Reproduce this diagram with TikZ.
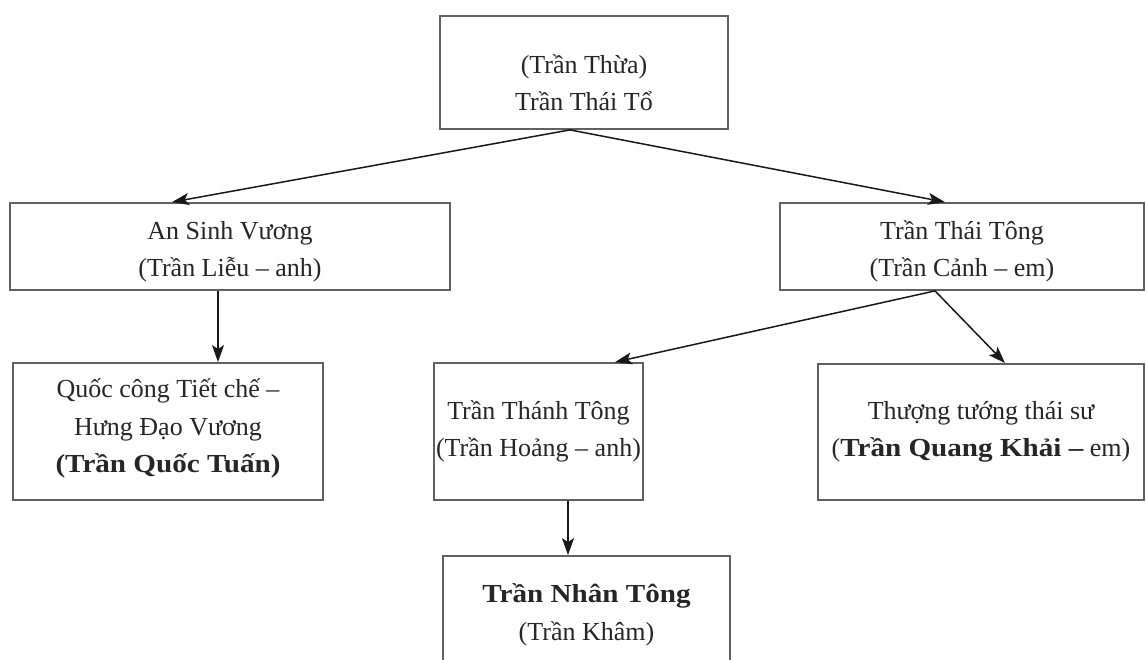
\documentclass[tikz,border=0pt]{standalone}
\usepackage{fontspec}
\setmainfont{Liberation Serif}
\newfontfamily\boldwidefont{Liberation Serif Bold}[FakeStretch=1.12]
\newcommand\bwide[1]{{\boldwidefont #1}}
\usetikzlibrary{arrows.meta}
\begin{document}
\begin{tikzpicture}[x=1pt,y=-1pt,
  box/.style={draw=black!62, line width=1.8pt, inner sep=0pt},
  txt/.style={align=center, inner sep=0pt, font=\fontsize{26}{37.5}\selectfont, text=black!85},
  arr/.style={line width=1.5pt, draw=black!90, -{Stealth[length=17pt,width=12pt,inset=4pt]}}]
\useasboundingbox (0,0) rectangle (1146,660);
\fill[white] (0,0) rectangle (1146,660);
\node[box, minimum width=288pt, minimum height=113pt,
  label={[txt, yshift=-10pt]center:{(Trần Thừa)\\Trần Thái Tổ}}] (top) at (584,72.5) {};
\node[box, minimum width=440pt, minimum height=87pt,
  label={[txt, yshift=-5pt]center:{An Sinh Vương\\(Trần Liễu – anh)}}] (asv) at (230,246.5) {};
\node[box, minimum width=364pt, minimum height=87pt,
  label={[txt, yshift=-5pt]center:{Trần Thái Tông\\(Trần Cảnh – em)}}] (ttt) at (962,246.5) {};
\node[box, minimum width=310pt, minimum height=137pt,
  label={[txt, yshift=3pt]center:{Quốc công Tiết chế –\\Hưng Đạo Vương\\\bwide{(Trần Quốc Tuấn)}}}] (qc) at (168,431.5) {};
\node[box, minimum width=209pt, minimum height=137pt,
  label={[txt]center:{Trần Thánh Tông\\(Trần Hoảng – anh)}}] (tht) at (538.5,431.5) {};
\node[box, minimum width=326pt, minimum height=136pt,
  label={[txt]center:{Thượng tướng thái sư\\(\bwide{Trần Quang Khải –} em)}}] (tqk) at (981,432) {};
\node[box, minimum width=287pt, minimum height=112pt,
  label={[txt, yshift=-3pt]center:{\bwide{Trần Nhân Tông}\\(Trần Khâm)}}] (tnt) at (586.5,612) {};
\draw[arr] ([xshift=-14pt]top.south) -- ([xshift=-58pt]asv.north);
\draw[arr] ([xshift=-14pt]top.south) -- ([xshift=-17pt]ttt.north);
\draw[arr] ([xshift=-12pt]asv.south) -- ([xshift=50pt]qc.north);
\draw[arr] ([xshift=-27pt]ttt.south) -- ([xshift=76.5pt]tht.north);
\draw[arr] ([xshift=-27pt]ttt.south) -- ([xshift=24pt]tqk.north);
\draw[arr] ([xshift=29.5pt]tht.south) -- ([xshift=-18.5pt]tnt.north);
\end{tikzpicture}
\end{document}
